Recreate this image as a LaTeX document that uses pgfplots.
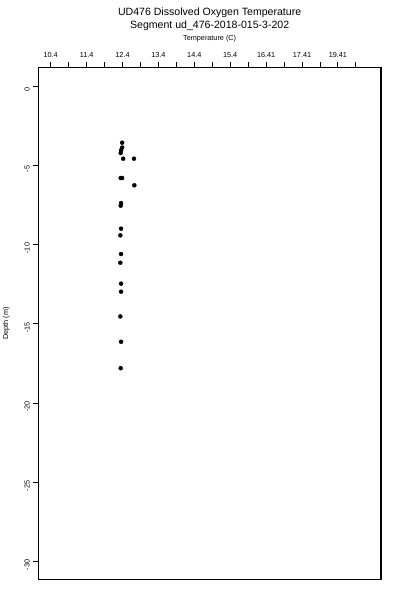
\documentclass[border=0pt]{standalone}
\usepackage{pgfplots}
\pgfplotsset{compat=1.18}
\usepackage{fontspec}
\setmainfont{Liberation Sans}
\begin{document}
\begin{tikzpicture}
\path[use as bounding box] (-38.3bp,-20.5bp) rectangle (361.7bp,579.5bp);
\begin{axis}[
  name=ax,
  at={(0,0)}, anchor=south west,
  scale only axis, width=342.7bp, height=512.2bp,
  xmin=10.055, xmax=19.6, ymin=-31.14, ymax=1.2,
  axis line style={line width=1.1bp},
  xtick pos=right, xticklabel pos=right,
  ytick pos=left,
  tick align=outside, major tick length=5bp,
  tick style={black, line width=0.9bp},
  xtick={10.4,10.9,11.4,11.9,12.4,12.9,13.4,13.9,14.4,14.9,15.4,15.9,16.4,16.9,17.4,17.9,18.4,18.9},
  xticklabels={10.4,{},11.4,{},12.4,{},13.4,{},14.4,{},15.4,{},16.41,{},17.41,{},19.41,{}},
  ytick={0,-5,-10,-15,-20,-25,-30},
  yticklabels={0,-5,-10,-15,-20,-25,-30},
  ticklabel style={font=\fontsize{7.3}{8}\selectfont},
  xticklabel style={yshift=1bp},
  yticklabel style={rotate=90, anchor=south, xshift=-3.5bp},
  axis background/.style={fill=white},
]
\addplot[only marks, mark=*, mark size=2bp, black] coordinates {
(12.39,-3.56)
(12.39,-3.87)
(12.36,-4.04)
(12.35,-4.21)
(12.42,-4.57)
(12.72,-4.57)
(12.35,-5.79)
(12.39,-5.79)
(12.73,-6.25)
(12.36,-7.37)
(12.35,-7.54)
(12.36,-8.99)
(12.34,-9.41)
(12.36,-10.59)
(12.34,-11.14)
(12.36,-12.46)
(12.36,-12.97)
(12.34,-14.53)
(12.36,-16.13)
(12.35,-17.80)
};
\end{axis}
\node[font=\fontsize{10.6}{12}\selectfont] at (171.35bp,566.5bp) {UD476 Dissolved Oxygen Temperature};
\node[font=\fontsize{10.6}{12}\selectfont] at (171.35bp,554bp) {Segment ud\_476-2018-015-3-202};
\node[font=\fontsize{7.3}{8}\selectfont] at (171.35bp,541bp) {Temperature (C)};
\node[font=\fontsize{7.3}{8}\selectfont, rotate=90] at (-32bp,256.1bp) {Depth (m)};
\end{tikzpicture}
\end{document}
